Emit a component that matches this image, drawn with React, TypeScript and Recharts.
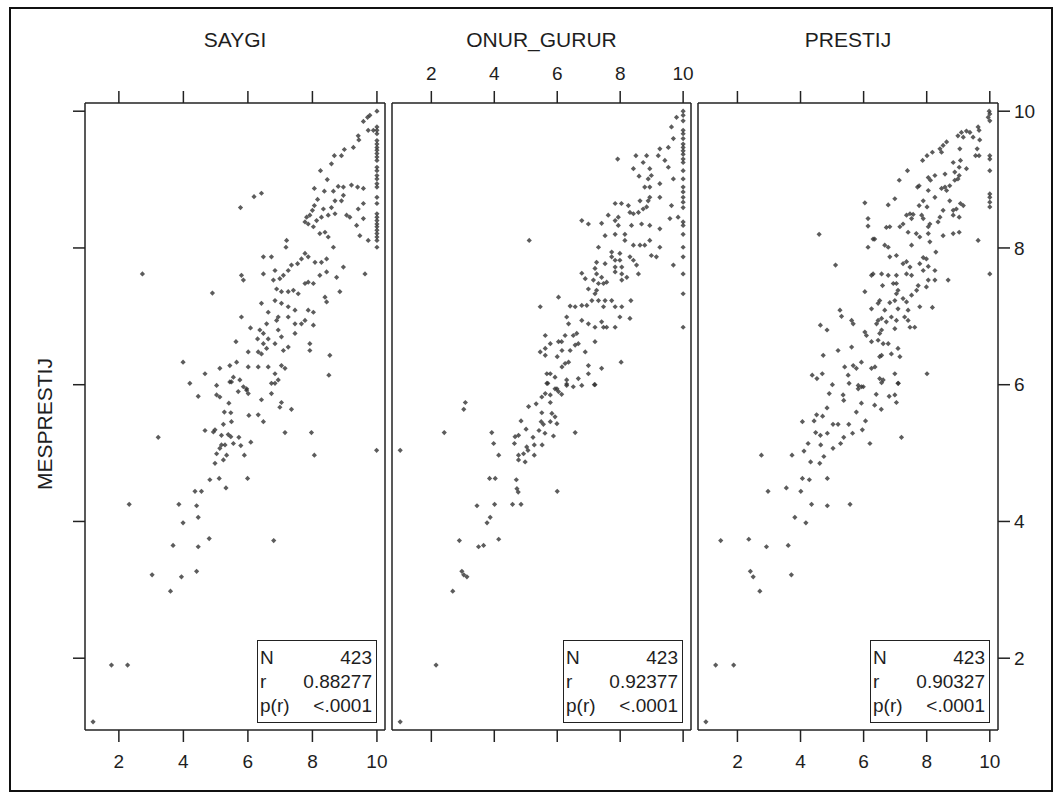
import { ScatterChart, Scatter, XAxis, YAxis } from "recharts";

const titles = ["SAYGI", "ONUR_GURUR", "PRESTIJ"];
const yTitle = "MESPRESTIJ";
const xTicks = [2, 4, 6, 8, 10];
const yTicks = [2, 4, 6, 8, 10];
const statN = [423, 423, 423];
const statR = ["0.88277", "0.92377", "0.90327"];
const statP = ["<.0001", "<.0001", "<.0001"];
const xDomains: [number, number][] = [[0.95, 10.25], [0.75, 10.25], [0.75, 10.26]];
const yDomain: [number, number] = [0.95, 10.12];

// SAYGI vs MESPRESTIJ
const saygi: [number, number][] = [
  [10, 10], [9.78, 9.94], [9.71, 9.91], [9.58, 9.85], [9.42, 9.64], [9.44, 9.58], [9.73, 9.72], [9.89, 9.72],
  [10, 9.77], [10, 9.72], [10, 9.67], [10, 9.57], [10, 9.52], [10, 9.47], [10, 9.43], [10, 9.38], [10, 9.33],
  [10, 9.28], [10, 9.18], [10, 9.13], [10, 9.06], [10, 9.01], [10, 8.94], [10, 8.89], [10, 8.74], [10, 8.65],
  [10, 8.5], [10, 8.45], [10, 8.4], [10, 8.35], [10, 8.31], [10, 8.26], [10, 8.21], [10, 8.16], [10, 8.11], [10, 8.01],
  [9.27, 9.47], [8.99, 9.44], [8.9, 9.35], [8.68, 9.35], [8.59, 9.23], [8.25, 9.13], [8.46, 9.0], [8.06, 8.87],
  [8.37, 8.83], [8.65, 8.83], [8.8, 8.9], [8.96, 8.89], [9.21, 8.92], [9.4, 8.89], [9.58, 8.87], [9.58, 8.65],
  [9.42, 8.57], [8.96, 8.77], [8.9, 8.69], [8.7, 8.69], [8.59, 8.59], [8.34, 8.57], [8.16, 8.71], [8.06, 8.62],
  [8.0, 8.55], [7.92, 8.48], [7.82, 8.45], [7.77, 8.38], [7.87, 8.35], [8.03, 8.31], [8.13, 8.4], [8.28, 8.45],
  [8.49, 8.48], [8.7, 8.5], [9.06, 8.48], [9.16, 8.45], [9.37, 8.33], [9.47, 8.18], [9.58, 8.43], [9.73, 8.11],
  [8.23, 8.21], [8.39, 8.23], [8.49, 8.16], [8.65, 8.01], [8.44, 7.84], [8.28, 7.79], [8.08, 7.79], [7.87, 7.87],
  [7.77, 7.92], [7.66, 7.84], [7.54, 7.77], [7.35, 7.75], [7.25, 7.67], [7.1, 7.6], [6.99, 7.55], [6.84, 7.67],
  [6.79, 7.53], [6.89, 7.4], [7.04, 7.36], [7.25, 7.36], [7.41, 7.38], [7.56, 7.33], [7.77, 7.48], [7.87, 7.5],
  [8.03, 7.48], [8.23, 7.6], [8.44, 7.65], [8.75, 7.57], [8.96, 7.72], [8.85, 7.36], [9.63, 7.62], [6.48, 7.87],
  [6.73, 7.87], [7.2, 8.11], [7.18, 8.01], [6.48, 7.62], [5.8, 7.6], [5.86, 7.53], [5.77, 8.59], [6.19, 8.75],
  [6.42, 8.8], [6.84, 7.23], [7.04, 7.19], [7.25, 7.14], [7.46, 7.09], [7.87, 7.09], [8.03, 7.06], [8.39, 7.28],
  [8.44, 7.21], [7.77, 6.94], [7.66, 6.89], [7.46, 6.75], [7.25, 6.99], [6.94, 6.99], [6.89, 6.94], [6.63, 7.06],
  [6.42, 7.19], [6.58, 6.89], [6.94, 6.8], [7.04, 6.7], [7.25, 6.55], [7.1, 6.5], [6.84, 6.6], [6.63, 6.67],
  [6.48, 6.75], [6.37, 6.8], [6.3, 6.67], [6.48, 6.6], [6.58, 6.53], [6.42, 6.45], [6.32, 6.48], [6.01, 6.48],
  [6.01, 6.26], [6.32, 6.26], [6.63, 6.26], [6.84, 6.16], [7.04, 6.28], [7.15, 6.24], [6.94, 6.07], [6.73, 6.02],
  [5.8, 6.99], [6.08, 6.83], [5.63, 6.63], [5.44, 6.28], [5.65, 6.33], [5.55, 6.11], [5.44, 6.04], [5.75, 6.07],
  [5.86, 5.97], [5.96, 5.94], [5.13, 6.24], [4.67, 6.16], [4.2, 6.02], [5.03, 5.99], [3.99, 6.33], [2.73, 7.62],
  [4.9, 7.34], [7.92, 6.6], [7.92, 6.5], [8.54, 6.43], [8.51, 6.14], [8.03, 6.87], [7.46, 6.89],
  [5.49, 6.04], [5.7, 5.9], [5.96, 5.92], [6.01, 5.87], [6.84, 6.02], [6.73, 5.87], [4.46, 5.83], [5.03, 5.85],
  [5.13, 5.82], [5.41, 5.73], [6.42, 5.78], [7.04, 5.74], [6.99, 5.67], [7.35, 5.64], [5.27, 5.6], [5.47, 5.59],
  [5.49, 5.46], [5.24, 5.42], [6.32, 5.56], [6.03, 5.55], [6.48, 5.46], [4.67, 5.33], [4.93, 5.31], [4.98, 5.34],
  [5.18, 5.26], [5.39, 5.27], [5.47, 5.24], [5.72, 5.23], [3.22, 5.23], [7.15, 5.3], [7.97, 5.3], [6.09, 5.16],
  [5.78, 5.11], [5.55, 5.14], [5.29, 5.12], [5.18, 5.12], [5.13, 5.07], [5.03, 4.99], [5.34, 4.97], [5.24, 4.9],
  [4.98, 4.85], [5.89, 4.97], [8.06, 4.97], [9.99, 5.04], [4.82, 4.61], [5.11, 4.63], [5.99, 4.63], [5.32, 4.49],
  [4.36, 4.44], [4.56, 4.44], [2.32, 4.25], [3.86, 4.25], [4.41, 4.23], [4.46, 4.06], [3.99, 3.98], [4.8, 3.75],
  [3.68, 3.65], [4.46, 3.63], [6.8, 3.72], [3.03, 3.22], [3.94, 3.19], [4.41, 3.27], [3.6, 2.98], [1.77, 1.9],
  [2.27, 1.9], [1.2, 1.07],
];

// ONUR_GURUR vs MESPRESTIJ
const onur: [number, number][] = [
  [10, 10], [10, 9.94], [10, 9.86], [10, 9.72], [10, 9.67], [10, 9.6], [10, 9.52], [10, 9.47], [10, 9.42],
  [10, 9.37], [10, 9.3], [10, 9.25], [10, 9.13], [10, 9.01], [10, 8.89], [10, 8.82], [10, 8.74], [10, 8.67],
  [10, 8.59], [10, 8.38], [10, 8.33], [10, 8.2], [10, 8.01], [10, 7.87], [10, 7.62], [10, 7.33], [10, 6.84],
  [9.79, 9.91], [9.63, 9.77], [9.69, 9.6], [9.53, 9.47], [9.26, 9.45], [9.21, 9.35], [9.42, 9.28], [9.53, 9.18],
  [9.69, 9.01], [8.84, 9.35], [8.5, 9.35], [8.73, 9.25], [7.92, 9.3], [8.42, 9.16], [8.94, 9.16], [8.99, 9.06],
  [8.89, 9.01], [8.6, 9.05], [8.78, 8.89], [8.94, 8.89], [9.26, 8.94], [9.26, 8.74], [9.63, 8.62], [8.94, 8.74],
  [8.89, 8.69], [8.63, 8.69], [8.84, 8.6], [8.73, 8.57], [8.58, 8.52], [8.42, 8.5], [8.26, 8.62], [8.31, 8.52],
  [8.04, 8.65], [7.84, 8.65], [7.94, 8.45], [7.84, 8.4], [7.94, 8.33], [8.36, 8.33], [8.68, 8.35], [8.94, 8.33],
  [9.26, 8.28], [9.58, 8.43], [9.84, 8.45], [7.62, 8.48], [7.41, 8.36], [6.78, 8.4], [6.99, 8.35], [7.52, 8.18],
  [7.84, 8.2], [8.15, 8.2], [8.15, 8.11], [8.42, 8.04], [8.63, 8.04], [8.78, 8.04], [8.94, 8.11], [9.26, 8.01],
  [8.99, 7.89], [9.15, 7.87], [9.69, 7.75], [7.31, 8.01], [7.73, 7.94], [7.99, 7.92], [7.99, 7.82], [8.05, 7.72],
  [8.05, 7.62], [8.05, 7.53], [8.31, 7.87], [8.42, 7.82], [8.52, 7.75], [8.58, 7.62], [8.21, 7.57], [7.84, 7.82],
  [7.84, 7.72], [7.84, 7.65], [7.73, 7.87], [7.52, 7.77], [7.25, 7.79], [7.2, 7.7], [7.25, 7.62], [7.41, 7.57],
  [7.57, 7.5], [7.47, 7.48], [7.31, 7.48], [7.15, 7.53], [6.78, 7.63], [6.89, 7.55], [6.99, 7.4], [7.25, 7.38],
  [7.2, 7.33], [7.31, 7.23], [7.1, 7.23], [7.52, 7.23], [7.73, 7.23], [7.84, 7.14], [8.05, 7.14], [7.99, 6.99],
  [8.31, 6.97], [8.34, 7.23], [7.47, 7.14], [6.94, 7.16], [6.78, 7.16], [6.57, 7.14], [6.41, 7.15], [6.04, 7.28],
  [5.46, 7.14], [6.3, 6.99], [6.36, 6.89], [6.78, 6.94], [6.99, 6.89], [7.2, 6.84], [7.41, 6.92], [7.47, 6.84],
  [7.57, 6.84], [7.84, 6.84], [6.51, 6.72], [6.62, 6.75], [6.67, 6.6], [6.57, 6.58], [6.25, 6.72], [6.14, 6.63],
  [6.04, 6.63], [6.89, 6.48], [7.2, 6.63], [5.62, 6.72], [5.78, 6.6], [5.62, 6.53], [5.46, 6.48], [5.62, 6.43],
  [6.0, 6.41], [6.15, 6.5], [6.41, 6.5], [6.25, 6.31], [6.36, 6.33], [6.15, 6.26], [6.99, 6.28], [6.99, 6.16],
  [7.41, 6.24], [8.03, 6.33], [5.67, 6.16], [5.78, 6.16], [5.93, 6.11], [6.3, 6.07], [6.67, 6.09], [5.67, 6.02],
  [5.99, 5.94], [6.3, 5.99], [6.51, 5.97], [6.78, 5.99], [7.2, 6.0], [5.11, 8.11],
  [5.7, 6.02], [6.3, 6.01], [7.18, 6.0], [5.93, 5.94], [6.04, 5.9], [6.14, 5.86], [5.62, 5.87], [5.51, 5.82],
  [5.78, 5.85], [3.08, 5.74], [3.03, 5.64], [5.09, 5.68], [5.33, 5.72], [5.78, 5.74], [5.51, 5.59], [5.83, 5.58],
  [5.93, 5.53], [4.85, 5.47], [5.49, 5.46], [5.56, 5.42], [5.78, 5.46], [5.99, 5.43], [5.01, 5.35], [5.42, 5.33],
  [5.61, 5.29], [5.88, 5.25], [6.57, 5.3], [2.41, 5.3], [3.92, 5.3], [4.66, 5.24], [4.77, 5.26], [5.23, 5.23],
  [4.64, 5.14], [3.98, 5.14], [5.03, 5.09], [5.27, 5.12], [5.52, 5.12], [5.07, 5.04], [4.77, 4.97], [4.93, 4.99],
  [5.27, 4.97], [4.98, 4.87], [4.77, 4.9], [4.14, 4.97], [1.01, 5.04], [3.85, 4.63], [4.03, 4.63], [4.7, 4.61],
  [4.72, 4.48], [4.76, 4.43], [6.0, 4.44], [3.45, 4.23], [4.01, 4.25], [4.58, 4.25], [4.85, 4.25], [3.87, 4.06],
  [3.77, 3.98], [2.89, 3.72], [4.14, 3.74], [3.5, 3.63], [3.66, 3.65], [2.97, 3.27], [3.03, 3.22], [3.13, 3.19],
  [2.68, 2.98], [2.15, 1.9], [1.01, 1.07],
];

// PRESTIJ vs MESPRESTIJ
const prestij: [number, number][] = [
  [9.98, 10.0], [10, 9.96], [9.95, 9.91], [10, 9.86], [9.63, 9.77], [9.66, 9.72], [9.37, 9.69], [9.26, 9.71],
  [9.1, 9.69], [8.99, 9.64], [9.16, 9.62], [9.47, 9.62], [9.68, 9.58], [8.63, 9.55], [8.52, 9.5], [8.42, 9.45],
  [8.47, 9.4], [8.18, 9.4], [8.01, 9.35], [7.87, 9.28], [9.05, 9.45], [9.6, 9.45], [9.66, 9.35], [9.55, 9.35],
  [10, 9.35], [10, 9.3], [10, 9.13], [10, 8.79], [10, 8.74], [10, 8.67], [10, 8.6], [9.07, 9.28], [8.84, 9.25],
  [9.03, 9.18], [9.26, 9.16], [8.89, 9.11], [9.03, 9.06], [8.58, 9.08], [8.26, 9.06], [8.05, 9.03], [8.12, 8.99],
  [8.89, 8.99], [8.99, 9.01], [8.73, 8.91], [8.58, 8.89], [8.47, 8.87], [8.63, 8.84], [7.71, 8.89], [7.76, 8.91],
  [7.39, 9.13], [7.13, 8.99], [8.05, 8.84], [8.26, 8.74], [8.73, 8.69], [9.07, 8.65], [8.94, 8.57], [8.84, 8.55],
  [9.16, 8.62], [9.03, 8.45], [8.84, 8.48], [8.52, 8.55], [8.42, 8.45], [8.36, 8.38], [8.1, 8.35], [8.05, 8.31],
  [7.89, 8.69], [7.76, 8.62], [8.01, 8.6], [7.47, 8.5], [7.57, 8.49], [7.36, 8.48], [7.52, 8.43], [7.84, 8.48],
  [7.89, 8.43], [7.25, 8.35], [7.15, 8.31], [6.83, 8.31], [6.72, 8.3], [6.99, 8.72], [6.78, 8.63], [6.04, 8.66],
  [6.14, 8.43], [6.14, 8.32], [7.41, 8.23], [7.67, 8.21], [7.78, 8.16], [8.05, 8.21], [8.1, 8.09], [8.52, 8.18],
  [8.84, 8.21], [9.03, 8.23], [9.63, 8.11], [10, 7.62], [6.3, 8.13], [6.14, 8.01], [6.67, 8.04], [6.78, 8.01],
  [6.83, 7.87], [7.04, 7.89], [7.52, 8.04], [7.25, 7.77], [7.36, 7.8], [7.47, 7.72], [7.36, 7.62], [7.52, 7.6],
  [7.78, 7.77], [7.89, 7.86], [7.99, 7.84], [8.05, 7.73], [8.26, 7.67], [8.29, 7.94], [7.89, 7.67], [8.05, 7.53],
  [8.26, 7.53], [8.68, 7.53], [7.99, 7.43], [7.73, 7.45], [7.68, 7.38], [7.52, 7.31], [7.78, 7.14], [8.18, 7.13],
  [7.04, 7.6], [6.94, 7.48], [7.04, 7.48], [6.78, 7.6], [6.57, 7.62], [6.3, 7.62], [6.25, 7.6], [6.6, 7.45],
  [7.09, 7.38], [7.04, 7.33], [6.99, 7.23], [7.25, 7.26], [6.83, 7.2], [6.67, 7.09], [7.36, 7.21], [7.41, 7.09],
  [7.09, 7.11], [6.51, 7.23], [6.46, 7.19], [6.25, 7.11], [6.04, 7.36], [6.46, 6.94], [6.57, 6.97], [6.41, 6.89],
  [6.72, 6.92], [6.88, 6.99], [7.04, 6.94], [7.3, 6.99], [7.41, 6.94], [7.47, 6.84], [7.62, 6.84], [6.99, 6.82],
  [6.57, 6.8], [6.51, 6.75], [6.04, 6.77], [6.09, 6.72], [6.25, 6.63], [6.46, 6.65], [6.62, 6.6], [6.78, 6.6],
  [7.09, 6.53], [7.15, 6.41], [6.88, 6.45], [6.57, 6.43], [6.51, 6.41], [6.36, 6.26], [6.25, 6.24], [5.93, 6.33],
  [5.67, 6.28], [5.77, 6.24], [5.62, 6.55], [5.25, 7.09], [5.3, 7.0], [5.62, 6.94], [5.67, 6.89], [4.63, 6.87],
  [4.84, 6.8], [5.19, 6.5], [4.72, 6.43], [5.4, 6.26], [5.51, 6.14], [4.37, 6.14], [4.52, 6.09], [4.69, 6.16],
  [5.01, 6.0], [5.54, 6.02], [5.83, 5.99], [5.99, 5.97], [6.51, 6.09], [6.62, 6.07], [6.99, 6.16], [7.09, 6.02],
  [8.01, 6.16], [4.59, 8.2], [5.11, 7.75], [6.35, 8.13],
  [5.93, 5.97], [5.83, 5.94], [6.57, 6.03], [7.1, 6.02], [4.91, 5.87], [5.35, 5.85], [5.37, 5.77], [6.4, 5.86],
  [6.81, 5.83], [6.99, 5.85], [7.04, 5.74], [5.93, 5.73], [6.35, 5.7], [6.56, 5.64], [4.84, 5.66], [4.51, 5.56],
  [4.7, 5.54], [4.43, 5.47], [4.06, 5.46], [5.77, 5.6], [6.06, 5.47], [5.03, 5.42], [5.19, 5.42], [5.53, 5.42],
  [4.48, 5.3], [4.85, 5.29], [4.63, 5.26], [5.37, 5.23], [5.65, 5.29], [5.96, 5.34], [7.2, 5.23], [4.24, 5.14],
  [4.64, 5.12], [5.03, 5.07], [5.27, 5.14], [6.2, 5.14], [4.11, 5.03], [4.32, 4.87], [4.61, 4.85], [4.74, 4.95],
  [3.73, 4.97], [2.76, 4.97], [4.06, 4.63], [4.28, 4.61], [4.85, 4.63], [2.97, 4.44], [3.55, 4.49], [4.01, 4.44],
  [4.35, 4.25], [4.85, 4.23], [5.57, 4.25], [3.82, 4.06], [4.17, 3.98], [1.47, 3.72], [2.36, 3.74], [2.92, 3.63],
  [3.61, 3.65], [2.41, 3.27], [2.5, 3.19], [3.71, 3.22], [2.71, 2.98], [1.31, 1.9], [1.88, 1.9], [1.0, 1.07],
];

const series = [saygi, onur, prestij];

const FONT = "'Liberation Sans', Arial, sans-serif";
const INK = "#1e1e1e";
const PANEL_TOP = 103;
const PANEL_H = 627;
const panelLeft = [85, 392, 698];
const panelW = [300, 299, 300];
const TOP_H = 45;
const BOT_H = 45;
const LEFT_W = 14;
const RIGHT_W = 45;
const M = 2;

const lineStyle = { stroke: "#222", strokeWidth: 1.5 };
const tickText = { fontSize: 19, fill: INK, fontFamily: FONT };
// keeps the tick line but draws no label
const NoLabel = () => <g />;

const Marker = (p: any) => {
  const { cx, cy } = p;
  const r = 2.6;
  return (
    <path
      d={`M${cx},${cy - r}L${cx + r},${cy}L${cx},${cy + r}L${cx - r},${cy}Z`}
      fill="#333"
      fillOpacity={0.8}
    />
  );
};

function Panel({ i }: { i: number }) {
  const data = series[i].map(([x, y]) => ({ x, y }));
  const width = M + LEFT_W + panelW[i] + RIGHT_W + M;
  const height = M + TOP_H + PANEL_H + BOT_H + M;
  return (
    <div style={{ position: "absolute", left: panelLeft[i] - LEFT_W - M, top: PANEL_TOP - TOP_H - M }}>
      <ScatterChart width={width} height={height} margin={{ top: M, right: M, bottom: M, left: M }}>
        <XAxis
          xAxisId="b" orientation="bottom" type="number" dataKey="x"
          domain={xDomains[i]} allowDataOverflow ticks={xTicks} interval={0}
          height={BOT_H} tickSize={12} tickMargin={13}
          axisLine={lineStyle} tickLine={lineStyle}
          tick={i !== 1 ? tickText : NoLabel}
        />
        <XAxis
          xAxisId="t" orientation="top" type="number" dataKey="x"
          domain={xDomains[i]} allowDataOverflow ticks={xTicks} interval={0}
          height={TOP_H} tickSize={12} tickMargin={11}
          axisLine={lineStyle} tickLine={lineStyle}
          tick={i === 1 ? tickText : NoLabel}
        />
        <YAxis
          yAxisId="l" orientation="left" type="number" dataKey="y"
          domain={yDomain} allowDataOverflow ticks={yTicks} interval={0}
          width={LEFT_W} tickSize={12}
          axisLine={lineStyle} tickLine={i === 0 ? lineStyle : false}
          tick={NoLabel}
        />
        <YAxis
          yAxisId="r" orientation="right" type="number" dataKey="y"
          domain={yDomain} allowDataOverflow ticks={yTicks} interval={0}
          width={RIGHT_W} tickSize={12} tickMargin={4}
          axisLine={lineStyle} tickLine={i === 2 ? lineStyle : false}
          tick={i === 2 ? tickText : NoLabel}
        />
        <Scatter xAxisId="b" yAxisId="l" data={data} shape={Marker} isAnimationActive={false} />
      </ScatterChart>
    </div>
  );
}

function StatBox({ i }: { i: number }) {
  const right = panelLeft[i] + panelW[i] - 8;
  const rows: [string, string][] = [
    ["N", String(statN[i])],
    ["r", statR[i]],
    ["p(r)", statP[i]],
  ];
  return (
    <div
      style={{
        position: "absolute", left: right - 120, top: 640, width: 120, height: 83,
        boxSizing: "border-box", border: "1.5px solid #222", padding: "5px 4px 0 2px",
        fontSize: 19, lineHeight: "24px", color: INK, fontFamily: FONT, background: "#fff",
      }}
    >
      {rows.map(([k, v]) => (
        <div key={k} style={{ display: "flex", justifyContent: "space-between" }}>
          <span>{k}</span>
          <span>{v}</span>
        </div>
      ))}
    </div>
  );
}

export default function App() {
  return (
    <div style={{ position: "absolute", left: 0, top: 0, width: 1055, height: 793, background: "#fff", fontFamily: FONT }}>
      <div
        style={{
          position: "absolute", left: 9, top: 7, width: 1044, height: 785,
          boxSizing: "border-box", border: "2px solid #111",
        }}
      />
      {titles.map((t, i) => (
        <div
          key={t}
          style={{
            position: "absolute", left: panelLeft[i], width: panelW[i], top: 28,
            textAlign: "center", fontSize: 21, lineHeight: "24px", color: INK,
          }}
        >
          {t}
        </div>
      ))}
      <div
        style={{
          position: "absolute", left: 45, top: 424, transform: "translate(-50%, -50%) rotate(-90deg)",
          fontSize: 21, lineHeight: "24px", color: INK, whiteSpace: "nowrap",
        }}
      >
        {yTitle}
      </div>
      {[0, 1, 2].map((i) => (
        <Panel key={i} i={i} />
      ))}
      {[0, 1, 2].map((i) => (
        <StatBox key={i} i={i} />
      ))}
    </div>
  );
}
